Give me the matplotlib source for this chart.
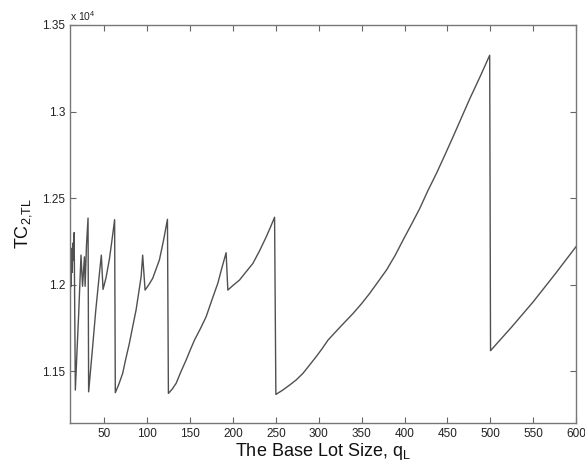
import numpy as np
import matplotlib
matplotlib.use('Agg')
import matplotlib.pyplot as plt
from matplotlib.ticker import FuncFormatter

plt.rcParams['font.family'] = ['Liberation Sans', 'DejaVu Sans']
plt.rcParams['mathtext.default'] = 'regular'

# Total cost against base lot size (sawtooth from the shipment count changes)
q_lot = [10, 10.7, 11.3, 12.0, 12.6, 13.3, 14.0, 14.8, 16.2,
         18, 20, 22.8, 24.6, 26.8, 27.6, 29.2, 31.0, 31.7,
         36, 40, 44, 46.5, 48.5, 52, 56, 59, 62.0, 62.8,
         67, 71.4, 75, 79.2, 83, 87, 90, 92.9, 94.7, 97.5, 102, 106.4, 110, 114.2, 119, 123.6, 124.7,
         129, 133.7, 139, 145.4, 150, 155.1, 162, 168.7, 175, 182.3, 187, 192, 194,
         200, 207.6, 215, 223.2, 231, 238.8, 244, 248.5, 250,
         258, 266, 274, 281.6, 289, 297, 304, 310.8, 325, 340, 350, 359.4, 369, 379, 389,
         398.3, 408, 417.8, 427, 437.3, 447, 456.7, 466, 476.2, 488, 499.3,
         500.3, 525, 550, 575, 600]
tc_total = [11850, 12060, 11990, 12210, 12070, 12240, 12140, 12300, 11390,
            11600, 11820, 12170, 11990, 12160, 11990, 12230, 12384, 11380,
            11620, 11850, 12050, 12170, 11972, 12040, 12150, 12260, 12375, 11375,
            11425, 11487, 11570, 11660, 11755, 11853, 11950, 12045, 12170, 11968, 12000, 12036, 12085, 12142, 12255, 12377, 11371,
            11395, 11429, 11493, 11564, 11620, 11679, 11745, 11814, 11905, 12007, 12095, 12184, 11968,
            11995, 12026, 12072, 12122, 12195, 12276, 12335, 12389, 11365,
            11390, 11419, 11450, 11487, 11533, 11583, 11630, 11679, 11755, 11833, 11890, 11949, 12015, 12084, 12168,
            12257, 12347, 12440, 12540, 12643, 12748, 12855, 12960, 13075, 13200, 13325,
            11618, 11755, 11900, 12057, 12219]

x_ticks = [50, 100, 150, 200, 250, 300, 350, 400, 450, 500, 550, 600]
y_ticks = [11500, 12000, 12500, 13000, 13500]

fig = plt.figure(figsize=(5.85, 4.68), dpi=100)
ax = fig.add_axes([0.1197, 0.0962, 0.8650, 0.8504])

ax.plot(q_lot, tc_total, color='#505050', linewidth=1.0)

ax.set_xlim(10, 600)
ax.set_ylim(11200, 13500)
ax.set_xticks(x_ticks)
ax.set_yticks(y_ticks)
ax.yaxis.set_major_formatter(FuncFormatter(lambda v, p: '%g' % (v / 1e4)))

ax.tick_params(direction='in', length=4, width=0.8, colors='#666666',
               labelcolor='#222222', labelsize=8.5, top=True, right=True)
for sp in ax.spines.values():
    sp.set_color('#777777')
    sp.set_linewidth(1.0)

ax.text(0.0, 1.006, 'x 10$^4$', transform=ax.transAxes, fontsize=7.5,
        color='#222222', ha='left', va='bottom')

ax.set_xlabel('The Base Lot Size, q$_L$', fontsize=13, color='#111111', labelpad=1)
ax.set_ylabel('TC$_{2{,}TL}$', fontsize=13, color='#111111', labelpad=6)

plt.savefig('out.png', dpi=100)
